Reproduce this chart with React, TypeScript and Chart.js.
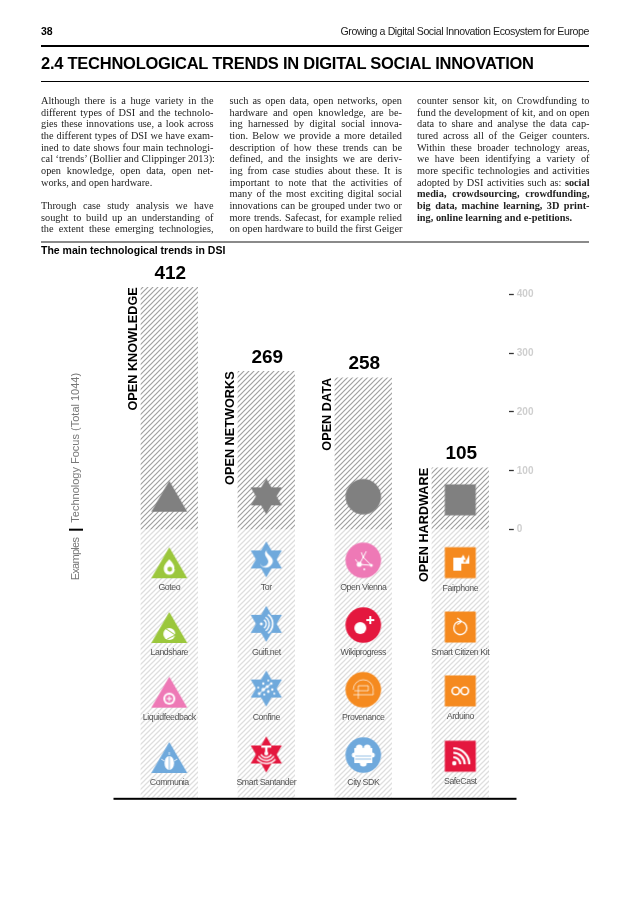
import React, { useEffect, useRef } from "react";
import { Chart, registerables } from "chart.js";

Chart.register(...registerables);

const categories = ["OPEN KNOWLEDGE", "OPEN NETWORKS", "OPEN DATA", "OPEN HARDWARE"];
const focusValues = [412, 269, 258, 105];
const examplesBand = -456;
const axisTicks = [0, 100, 200, 300, 400];

const emblemRow = [56, 56.7, 56, 50.7];
const row1 = [-57, -50.5, -52, -56];
const row2 = [-167, -160, -162, -165.5];
const row3 = [-277, -270, -272, -274];
const row4 = [-388, -382, -383, -385];

const exampleNames = [
  ["Goteo", "Landshare", "Liquidfeedback", "Communia"],
  ["Tor", "Guifi.net", "Confine", "Smart Santander"],
  ["Open Vienna", "Wikiprogress", "Provenance", "City SDK"],
  ["Fairphone", "Smart Citizen Kit", "Arduino", "SafeCast"],
];
const exampleColors = [
  ["#9bc73c", "#9bc73c", "#ee79b6", "#6fa9dc"],
  ["#6fa9dc", "#6fa9dc", "#6fa9dc", "#e4173e"],
  ["#ee79b6", "#e4173e", "#f58a1f", "#6fa9dc"],
  ["#f58a1f", "#f58a1f", "#f58a1f", "#e4173e"],
];
const shapeKinds = ["triangle", "star", "circle", "square"];

const pageLines: [string, boolean][][] = [
  [
    ["Although there is a huge variety in the", true],
    ["different types of DSI and the technolo-", true],
    ["gies these innovations use, a look across", true],
    ["the different types of DSI we have exam-", true],
    ["ined to date shows four main technologi-", true],
    ["cal ‘trends’ (Bollier and Clippinger 2013):", true],
    ["open knowledge, open data, open net-", true],
    ["works, and open hardware.", false],
    ["", false],
    ["Through case study analysis we have", true],
    ["sought to build up an understanding of", true],
    ["the extent these emerging technologies,", true],
  ],
  [
    ["such as open data, open networks, open", true],
    ["hardware and open knowledge, are be-", true],
    ["ing harnessed by digital social innova-", true],
    ["tion. Below we provide a more detailed", true],
    ["description of how these trends can be", true],
    ["defined, and the insights we are deriv-", true],
    ["ing from case studies about these. It is", true],
    ["important to note that the activities of", true],
    ["many of the most exciting digital social", true],
    ["innovations can be grouped under two or", true],
    ["more trends. Safecast, for example relied", true],
    ["on open hardware to build the first Geiger", true],
  ],
  [
    ["counter sensor kit, on Crowdfunding to", true],
    ["fund the development of kit, and on open", true],
    ["data to share and analyse the data cap-", true],
    ["tured across all of the Geiger counters.", true],
    ["Within these broader technology areas,", true],
    ["we have been identifying a variety of", true],
    ["more specific technologies and activities", true],
    ["adopted by DSI activities such as: <b>social</b>", true],
    ["<b>media, crowdsourcing, crowdfunding,</b>", true],
    ["<b>big data, machine learning, 3D print-</b>", true],
    ["<b>ing, online learning and e-petitions.</b>", false],
  ],
];
const columnLeft = [41, 229.5, 417];

const SANS = '"Liberation Sans", Arial, sans-serif';

function hatch(color: string, lw: number) {
  const s = 5;
  const c = document.createElement("canvas");
  c.width = s;
  c.height = s;
  const g = c.getContext("2d")!;
  g.strokeStyle = color;
  g.lineWidth = lw;
  g.beginPath();
  g.moveTo(-1, 1);
  g.lineTo(1, -1);
  g.moveTo(0, s);
  g.lineTo(s, 0);
  g.moveTo(s - 1, s + 1);
  g.lineTo(s + 1, s - 1);
  g.stroke();
  return document.createElement("canvas").getContext("2d")!.createPattern(c, "repeat")!;
}

function shapePath(g: CanvasRenderingContext2D, kind: string, cx: number, cy: number) {
  g.beginPath();
  if (kind === "triangle") {
    g.moveTo(cx, cy - 16);
    g.lineTo(cx + 18, cy + 15);
    g.lineTo(cx - 18, cy + 15);
    g.closePath();
  } else if (kind === "star") {
    const R = 18;
    const r = 10.4;
    for (let i = 0; i < 12; i++) {
      const a = -Math.PI / 2 + (i * Math.PI) / 6;
      const q = i % 2 === 0 ? R : r;
      const x = cx + q * Math.cos(a);
      const y = cy + q * Math.sin(a);
      if (i === 0) g.moveTo(x, y);
      else g.lineTo(x, y);
    }
    g.closePath();
  } else if (kind === "circle") {
    g.arc(cx, cy, 17.8, 0, Math.PI * 2);
  } else {
    g.rect(cx - 15.5, cy - 15.5, 31, 31);
  }
}

function arc(g: CanvasRenderingContext2D, x: number, y: number, r: number, a: number, b: number, lw = 1.4) {
  g.lineWidth = lw;
  g.beginPath();
  g.arc(x, y, r, a, b);
  g.stroke();
}
function dot(g: CanvasRenderingContext2D, x: number, y: number, r: number) {
  g.beginPath();
  g.arc(x, y, r, 0, Math.PI * 2);
  g.fill();
}
function seg(g: CanvasRenderingContext2D, pts: number[], lw = 1.2) {
  g.lineWidth = lw;
  g.beginPath();
  g.moveTo(pts[0], pts[1]);
  for (let i = 2; i < pts.length; i += 2) g.lineTo(pts[i], pts[i + 1]);
  g.stroke();
}

function glyph(g: CanvasRenderingContext2D, name: string, color: string, x: number, y: number) {
  g.fillStyle = "#fff";
  g.strokeStyle = "#fff";
  switch (name) {
    case "Goteo":
      g.beginPath();
      g.moveTo(x, y - 4);
      g.quadraticCurveTo(x + 6, y + 2, x + 5, y + 6);
      g.arc(x, y + 6, 5.5, 0, Math.PI);
      g.quadraticCurveTo(x - 6, y + 2, x, y - 4);
      g.fill();
      g.fillStyle = color;
      dot(g, x + 0.5, y + 6, 2.4);
      break;
    case "Landshare":
      dot(g, x, y + 6, 6);
      g.strokeStyle = color;
      seg(g, [x - 3, y + 1, x + 6, y + 7, x - 2, y + 11], 1);
      break;
    case "Liquidfeedback":
      dot(g, x, y + 6, 6);
      g.fillStyle = color;
      dot(g, x, y + 6, 4);
      g.strokeStyle = "#fff";
      seg(g, [x - 2.5, y + 6, x + 2.5, y + 6], 1.2);
      seg(g, [x, y + 3.5, x, y + 8.5], 1.2);
      break;
    case "Communia":
      g.beginPath();
      g.ellipse(x, y + 5, 4.8, 7, 0, 0, Math.PI * 2);
      g.fill();
      g.strokeStyle = color;
      seg(g, [x, y - 2, x, y + 12], 0.8);
      g.strokeStyle = "#fff";
      seg(g, [x - 8, y + 1, x - 5, y + 3], 0.8);
      seg(g, [x + 8, y + 1, x + 5, y + 3], 0.8);
      seg(g, [x, y - 6, x, y - 3], 0.8);
      break;
    case "Tor":
      g.beginPath();
      g.moveTo(x + 3, y - 11);
      g.bezierCurveTo(x - 6, y - 7, x + 10, y - 3, x + 6, y + 4);
      g.bezierCurveTo(x + 3, y + 10, x - 6, y + 9, x - 6, y + 4);
      g.bezierCurveTo(x - 5, y + 9, x + 2, y + 7, x + 2, y + 2);
      g.bezierCurveTo(x + 2, y - 2, x - 6, y - 6, x + 3, y - 11);
      g.fill();
      break;
    case "Guifi.net":
      dot(g, x - 5, y, 1.5);
      arc(g, x - 5, y, 5, -1, 1);
      arc(g, x - 5, y, 8, -1, 1);
      arc(g, x - 5, y, 11.5, -0.95, 0.95, 1.6);
      break;
    case "Confine":
      [[-7, 5, 1.5], [-3, 1, 1.8], [1, -2, 1.6], [5, -5, 1.3], [2, 3, 1.4], [-2, 6, 1.1], [6, 1, 1.2], [-3, -5, 1.2], [8, 5, 1], [-8, -1, 1], [2, -8, 1]].forEach((d) => dot(g, x + d[0], y + d[1], d[2]));
      seg(g, [x - 3, y + 1, x + 5, y - 5], 1);
      seg(g, [x - 7, y + 5, x + 1, y - 2], 1);
      break;
    case "Smart Santander":
      g.fillRect(x - 5, y - 9, 10, 2.2);
      g.fillRect(x - 1.2, y - 8, 2.4, 7);
      dot(g, x, y - 1, 2);
      arc(g, x, y - 3, 6, 0.5, Math.PI - 0.5);
      arc(g, x, y - 3, 9, 0.55, Math.PI - 0.55);
      arc(g, x, y - 3, 12, 0.7, Math.PI - 0.7);
      break;
    case "Open Vienna":
      seg(g, [x - 4, y + 4, x + 8, y + 5], 1);
      seg(g, [x - 4, y + 4, x, y - 3, x - 2, y - 8], 1);
      seg(g, [x, y - 3, x + 3, y - 9], 1);
      seg(g, [x, y - 3, x + 8, y + 5], 1);
      seg(g, [x - 4, y + 4, x - 8, y - 1], 1);
      dot(g, x - 4, y + 4, 2.6);
      dot(g, x + 8, y + 5, 1.5);
      dot(g, x, y - 3, 1);
      dot(g, x + 1, y + 9, 1);
      break;
    case "Wikiprogress":
      dot(g, x - 3, y + 3, 6);
      g.fillRect(x + 3, y - 6, 8, 2);
      g.fillRect(x + 6, y - 9, 2, 8);
      break;
    case "Provenance":
      g.lineWidth = 0.7;
      g.beginPath();
      g.arc(x, y, 10, -Math.PI, 0.2);
      g.lineTo(x + 10, y + 5);
      g.lineTo(x - 10, y + 5);
      g.moveTo(x - 5, y + 9);
      g.lineTo(x - 5, y - 4);
      g.lineTo(x + 5, y - 4);
      g.lineTo(x + 5, y + 1);
      g.moveTo(x - 9, y + 1);
      g.lineTo(x + 5, y + 1);
      g.stroke();
      break;
    case "City SDK":
      g.fillRect(x - 9, y - 7, 18, 15);
      dot(g, x - 4, y - 7, 3.5);
      dot(g, x + 4, y - 7, 3.5);
      dot(g, x - 9, y, 2.5);
      dot(g, x + 9, y, 2.5);
      dot(g, x, y + 8, 3.5);
      g.strokeStyle = color;
      seg(g, [x - 8, y + 1, x + 8, y + 1], 0.7);
      seg(g, [x - 8, y + 4, x + 8, y + 4], 0.7);
      break;
    case "Fairphone":
      g.beginPath();
      g.moveTo(x - 7, y - 5);
      g.lineTo(x + 1, y - 5);
      g.lineTo(x + 3, y - 8);
      g.lineTo(x + 6, y - 2);
      g.lineTo(x + 9, y - 8);
      g.lineTo(x + 9, y + 1);
      g.lineTo(x + 1, y + 1);
      g.lineTo(x + 1, y + 8);
      g.lineTo(x - 7, y + 8);
      g.closePath();
      g.fill();
      g.fillStyle = color;
      g.fillRect(x + 3.5, y - 3, 2, 2.5);
      break;
    case "Smart Citizen Kit":
      arc(g, x, y + 1, 6.5, -1.2, Math.PI * 1.55, 1.3);
      seg(g, [x - 3, y - 9, x + 1.5, y - 5.5, x - 3, y - 2.5], 1.1);
      break;
    case "Arduino":
      arc(g, x - 4.5, y, 3.7, 0, Math.PI * 2, 1.6);
      arc(g, x + 4.5, y, 3.7, 0, Math.PI * 2, 1.6);
      break;
    case "SafeCast":
      dot(g, x - 6, y + 7, 2.2);
      arc(g, x - 7, y + 8, 7, -Math.PI / 2, 0, 2.2);
      arc(g, x - 7, y + 8, 11.5, -Math.PI / 2, 0, 2.2);
      arc(g, x - 7, y + 8, 16, -Math.PI / 2, 0, 2.2);
      break;
  }
}

function icon(kind: string, color: string, name: string | null) {
  const size = 40;
  const c = document.createElement("canvas");
  c.width = size;
  c.height = size;
  const g = c.getContext("2d")!;
  g.fillStyle = color;
  shapePath(g, kind, size / 2, size / 2);
  g.fill();
  if (name) {
    glyph(g, name, color, size / 2, size / 2);
  }
  return c;
}

const pagePlugin = {
  id: "pageMarks",
  afterDatasetsDraw(chart: any) {
    const { ctx, scales } = chart;
    const y = scales.y;
    const bars = chart.getDatasetMeta(1).data;
    ctx.save();
    ctx.textBaseline = "alphabetic";
    // baseline rule
    ctx.fillStyle = "#000";
    ctx.fillRect(113.5, y.getPixelForValue(examplesBand) - 0.2, 403, 2);
    // totals and rotated trend names
    bars.forEach((b: any, i: number) => {
      ctx.fillStyle = "#000";
      ctx.textAlign = "center";
      ctx.font = `bold 19px ${SANS}`;
      ctx.fillText(String(focusValues[i]), b.x + 1, b.y - 8.5);
      ctx.save();
      ctx.translate(b.x - 32, b.y);
      ctx.rotate(-Math.PI / 2);
      ctx.textAlign = "right";
      ctx.font = `bold 12.7px ${SANS}`;
      ctx.fillText(categories[i], 0, 0);
      ctx.restore();
    });
    // example names under the icons
    ctx.fillStyle = "#555";
    ctx.font = `8.8px ${SANS}`;
    ctx.textAlign = "center";
    ctx.letterSpacing = "-0.45px";
    const labelOffset = [27, 31, 30, 28];
    for (let s = 0; s < 4; s++) {
      chart.getDatasetMeta(s + 2).data.forEach((p: any, i: number) => {
        ctx.fillText(exampleNames[s][i], p.x, p.y + labelOffset[s]);
      });
    }
    ctx.letterSpacing = "0px";
    // side caption
    const zero = y.getPixelForValue(0);
    ctx.fillStyle = "#000";
    ctx.fillRect(69, zero - 1, 14, 2);
    ctx.fillStyle = "#777";
    ctx.font = `11px ${SANS}`;
    ctx.save();
    ctx.translate(79, zero - 7);
    ctx.rotate(-Math.PI / 2);
    ctx.textAlign = "left";
    ctx.fillText("Technology Focus (Total 1044)", 0, 0);
    ctx.restore();
    ctx.save();
    ctx.translate(79, zero + 8);
    ctx.rotate(-Math.PI / 2);
    ctx.textAlign = "right";
    ctx.letterSpacing = "-0.7px";
    ctx.fillText("Examples", 0, 0);
    ctx.letterSpacing = "0px";
    ctx.restore();
    ctx.restore();
  },
};

const abs = (left: number, top: number, extra: React.CSSProperties = {}): React.CSSProperties => ({
  position: "absolute",
  left,
  top,
  whiteSpace: "nowrap",
  ...extra,
});

export default function App() {
  const ref = useRef<HTMLCanvasElement>(null);
  useEffect(() => {
    document.body.style.margin = "0";
    document.body.style.background = "#fff";
    const rows = [row1, row2, row3, row4];
    const shapeDataset = (s: number) => ({
      type: "scatter" as const,
      label: "examples " + categories[s],
      data: rows.map((r) => ({ x: categories[s], y: r[s] })),
      pointStyle: rows.map((_, i) => icon(shapeKinds[s], exampleColors[s][i], exampleNames[s][i])),
      pointRadius: 18,
      order: 0,
    });
    const chart = new Chart(ref.current!, {
      data: {
        labels: categories,
        datasets: [
          {
            type: "bar",
            label: "Examples",
            data: categories.map(() => [examplesBand, 0]) as any,
            backgroundColor: hatch("#dedede", 1.25),
            barThickness: 56.7,
            order: 3,
          },
          {
            type: "bar",
            label: "Technology Focus",
            data: focusValues,
            backgroundColor: hatch("#a0a0a0", 1.2),
            barThickness: 56.7,
            order: 2,
          },
          shapeDataset(0),
          shapeDataset(1),
          shapeDataset(2),
          shapeDataset(3),
          {
            type: "scatter",
            label: "Trend emblems",
            data: categories.map((c, i) => ({ x: c, y: emblemRow[i] })),
            pointStyle: shapeKinds.map((k) => icon(k, "#808080", null)),
            pointRadius: 18,
            order: 0,
          },
        ] as any,
      },
      options: {
        animation: false,
        responsive: false,
        devicePixelRatio: 1,
        layout: { padding: { left: 120.8, right: 0, top: 259, bottom: 105 } },
        plugins: { legend: { display: false }, tooltip: { enabled: false } },
        scales: {
          x: {
            type: "category",
            display: false,
            stacked: true,
            grid: { display: false },
          },
          y: {
            position: "right",
            stacked: false,
            min: examplesBand,
            max: 460,
            afterBuildTicks: (s: any) => {
              s.ticks = axisTicks.map((value) => ({ value }));
            },
            afterFit: (s: any) => {
              s.width = 638 - 508.8;
            },
            grid: {
              drawOnChartArea: false,
              drawTicks: true,
              tickLength: 5,
              tickColor: "#333",
              tickWidth: 1.3,
            },
            border: { display: false },
            ticks: {
              padding: 3,
              color: "#cfcfcf",
              font: { family: "Liberation Sans", size: 10, weight: "bold" },
            },
          },
        },
      } as any,
      plugins: [pagePlugin as any],
    });
    return () => chart.destroy();
  }, []);

  return (
    <div style={{ position: "relative", width: 638, height: 903, overflow: "hidden", background: "#fff", fontFamily: SANS, color: "#000" }}>
      <canvas ref={ref} width={638} height={903} style={{ position: "absolute", left: 0, top: 0, width: 638, height: 903 }} />
      <div style={abs(41, 25, { fontSize: 10.5, fontWeight: "bold", lineHeight: "13px" })}>38</div>
      <div style={abs(289, 25, { width: 300, textAlign: "right", fontSize: 10.6, letterSpacing: "-0.41px", lineHeight: "13px", color: "#222" })}>
        Growing a Digital Social Innovation Ecosystem for Europe
      </div>
      <div style={abs(41, 45, { width: 548, height: 2, background: "#000" })} />
      <div style={abs(41, 52, { fontSize: 16.5, letterSpacing: "-0.25px", fontWeight: "bold", lineHeight: "22px" })}>
        2.4 TECHNOLOGICAL TRENDS IN DIGITAL SOCIAL INNOVATION
      </div>
      <div style={abs(41, 80.5, { width: 548, height: 1, background: "#000" })} />
      {pageLines.map((col, c) =>
        col.map(([t, just], i) =>
          t ? (
            <div
              key={c + "-" + i}
              style={abs(columnLeft[c], 95 + i * 11.68, {
                width: 172.5,
                fontFamily: '"Liberation Serif", serif',
                fontSize: 10.3,
                lineHeight: "12px",
                color: "#222",
                whiteSpace: "nowrap",
                textAlign: "justify",
                textAlignLast: just ? "justify" : "left",
                height: 12,
              })}
              dangerouslySetInnerHTML={{ __html: t }}
            />
          ) : null
        )
      )}
      <div style={abs(41, 240.5, { width: 548, height: 2, background: "#8a8a8a" })} />
      <div style={abs(41, 244, { fontSize: 10.5, fontWeight: "bold", lineHeight: "13px" })}>The main technological trends in DSI</div>
    </div>
  );
}
